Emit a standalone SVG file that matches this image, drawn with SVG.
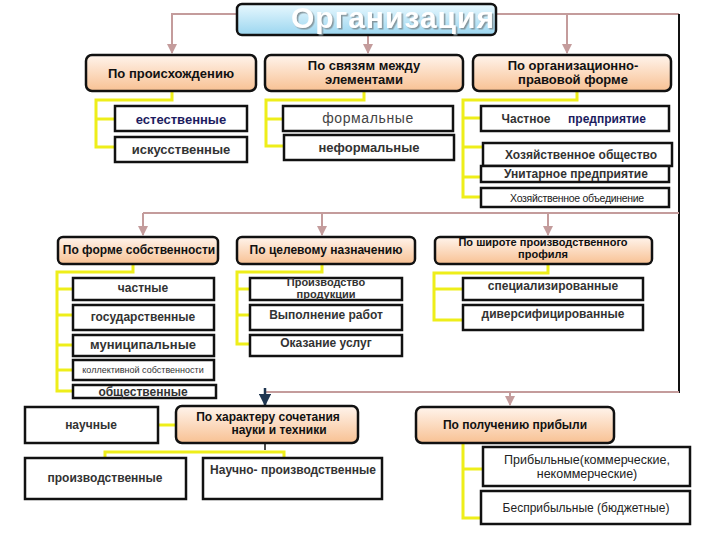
<svg xmlns="http://www.w3.org/2000/svg" width="720" height="540" viewBox="0 0 720 540">
<defs>
<linearGradient id="peach" x1="0" y1="0" x2="0" y2="1">
<stop offset="0" stop-color="#fff4ec"/>
<stop offset="1" stop-color="#f8c193"/>
</linearGradient>
<linearGradient id="sky" x1="0" y1="0" x2="0" y2="1">
<stop offset="0" stop-color="#e8f8fe"/>
<stop offset="1" stop-color="#9bd6f0"/>
</linearGradient>
<filter id="sh" x="-10%" y="-30%" width="120%" height="160%">
<feDropShadow dx="1.5" dy="1.5" stdDeviation="0.6" flood-color="#7f8f95" flood-opacity="0.9"/>
</filter>
<marker id="pa" viewBox="0 0 10 10" refX="9" refY="5" markerWidth="5" markerHeight="5" orient="auto">
<path d="M0,0 L10,5 L0,10 z" fill="#c49c9c"/>
</marker>
<marker id="ba" viewBox="0 0 10 10" refX="9" refY="5" markerWidth="5" markerHeight="5" orient="auto">
<path d="M0,0 L10,5 L0,10 z" fill="#1f3550"/>
</marker>
<style>
text{font-family:"Liberation Sans",Arial,sans-serif;fill:#222;text-anchor:middle}
.hdr{fill:url(#peach);stroke:#111;stroke-width:2.5}
.box{fill:#fff;stroke:#111;stroke-width:2.5}
.pk{stroke:#c49c9c;stroke-width:2;fill:none}
.yl{stroke:#eeee1a;stroke-width:3;fill:none}
.h{font-weight:bold;font-size:13px;fill:#111}
.h2{font-weight:bold;font-size:12px;fill:#111}
.t{font-size:12px;font-weight:bold;fill:#333}
.n{font-size:12px;fill:#222}
</style>
</defs>

<g id="connectors">
<polyline class="pk" points="237,14 172,14 172,53" marker-end="url(#pa)"/>
<line class="pk" x1="368" y1="35" x2="368" y2="53" marker-end="url(#pa)"/>
<line class="pk" x1="496" y1="14" x2="679" y2="14"/>
<line class="pk" x1="567" y1="14" x2="567" y2="53" marker-end="url(#pa)"/>
<line x1="679" y1="14" x2="679" y2="393" stroke="#111" stroke-width="2"/>
<line class="pk" x1="143" y1="213" x2="679" y2="213"/>
<line class="pk" x1="143" y1="213" x2="143" y2="235" marker-end="url(#pa)"/>
<line class="pk" x1="322" y1="213" x2="322" y2="235" marker-end="url(#pa)"/>
<line class="pk" x1="548" y1="213" x2="548" y2="235" marker-end="url(#pa)"/>
<line class="pk" x1="266" y1="392" x2="679" y2="392"/>
<line class="pk" x1="510" y1="392" x2="510" y2="405" marker-end="url(#pa)"/>
<line x1="265" y1="388" x2="265" y2="405" stroke="#1f3550" stroke-width="2.5" marker-end="url(#ba)"/>
<line x1="265" y1="443" x2="265" y2="450" stroke="#111" stroke-width="1.5"/>

<polyline class="yl" points="172,91 172,100 96,100 96,147 115,147"/>
<line class="yl" x1="96" y1="119" x2="115" y2="119"/>
<polyline class="yl" points="364,91 364,100 266,100 266,146 284,146"/>
<line class="yl" x1="266" y1="119" x2="284" y2="119"/>
<polyline class="yl" points="577,91 577,100 463,100 463,197 482,197"/>
<line class="yl" x1="463" y1="118" x2="482" y2="118"/>
<line class="yl" x1="463" y1="147" x2="484" y2="147"/>
<line class="yl" x1="463" y1="177" x2="482" y2="177"/>

<polyline class="yl" points="133,264 133,272 57,272 57,391 73,391"/>
<line class="yl" x1="57" y1="289" x2="73" y2="289"/>
<line class="yl" x1="57" y1="315" x2="73" y2="315"/>
<line class="yl" x1="57" y1="345" x2="73" y2="345"/>
<line class="yl" x1="57" y1="370" x2="73" y2="370"/>
<polyline class="yl" points="322,264 322,272 237,272 237,344 250,344"/>
<line class="yl" x1="237" y1="289" x2="250" y2="289"/>
<line class="yl" x1="237" y1="315" x2="250" y2="315"/>
<polyline class="yl" points="548,264 548,273 434,273 434,320 463,320"/>
<line class="yl" x1="434" y1="289" x2="463" y2="289"/>

<line class="yl" x1="156" y1="425" x2="176" y2="425"/>
<polyline class="yl" points="105,458 105,452 284,452 284,459"/>
<polyline class="yl" points="463,443 463,518 481,518"/>
<line class="yl" x1="463" y1="469" x2="483" y2="469"/>
</g>

<g id="title">
<rect x="237" y="4" width="259" height="31" rx="5" fill="url(#sky)" stroke="#111" stroke-width="2.5"/>
<text x="393" y="28" filter="url(#sh)" style="font-size:30px;font-weight:bold;fill:#fff;letter-spacing:1px">Организация</text>
</g>

<g id="h-origin"><rect class="hdr" x="86" y="55" width="170" height="36" rx="6"/><text class="h" x="171" y="78">По происхождению</text></g>
<g id="h-links"><rect class="hdr" x="265" y="55" width="198" height="36" rx="6"/><text class="h" x="364" y="70">По связям между</text><text class="h" x="364" y="84">элементами</text></g>
<g id="h-legal"><rect class="hdr" x="473" y="55" width="198" height="36" rx="6"/><text class="h" x="573" y="70">По  организационно-</text><text class="h" x="573" y="84">правовой  форме</text></g>

<g id="c-nat"><rect class="box" x="115" y="106" width="132" height="25"/><text x="181" y="124" style="font-size:13px;font-weight:bold;fill:#1c1c60">естественные</text></g>
<g id="c-art"><rect class="box" x="115" y="137" width="132" height="25"/><text class="t" x="181" y="154" style="font-size:13px">искусственные</text></g>
<g id="c-form"><rect class="box" x="283" y="106" width="170" height="25"/><text x="368" y="123" style="font-size:14px;fill:#444;letter-spacing:0.6px">формальные</text></g>
<g id="c-inform"><rect class="box" x="284" y="135" width="170" height="25"/><text class="t" x="369" y="152" style="font-size:13px">неформальные</text></g>
<g id="c-priv"><rect class="box" x="481" y="106" width="188" height="25"/><text class="t" x="526" y="123">Частное</text><text x="607" y="123" style="font-size:12px;font-weight:bold;fill:#1c1c60">предприятие</text></g>
<g id="c-econ"><rect class="box" x="483" y="143" width="189" height="23"/><text class="n" x="581" y="159" style="font-weight:bold;fill:#333">Хозяйственное общество</text></g>
<g id="c-unit"><rect class="box" x="481" y="166" width="188" height="16"/><text class="t" x="576" y="178">Унитарное предприятие</text></g>
<g id="c-union"><rect class="box" x="481" y="188" width="188" height="19"/><text x="577" y="202" style="font-size:10.5px;fill:#222;letter-spacing:-0.3px">Хозяйственное объединение</text></g>

<g id="h-own"><rect class="hdr" x="58" y="237" width="160" height="27" rx="5"/><text class="h2" x="139" y="254">По форме собственности</text></g>
<g id="h-purpose"><rect class="hdr" x="237" y="237" width="178" height="27" rx="5"/><text class="h2" x="326" y="254">По целевому назначению</text></g>
<g id="h-width"><rect class="hdr" x="435" y="237" width="217" height="27" rx="5"/><text class="h2" x="543" y="246" style="font-size:11px">По широте производственного</text><text class="h2" x="543" y="258" style="font-size:11px">профиля</text></g>

<g id="c-private"><rect class="box" x="73" y="278" width="141" height="22"/><text class="t" x="143" y="292">частные</text></g>
<g id="c-state"><rect class="box" x="73" y="305" width="141" height="25"/><text class="t" x="143" y="321">государственные</text></g>
<g id="c-muni"><rect class="box" x="73" y="335" width="141" height="21"/><text class="t" x="143" y="349" style="font-size:13px">муниципальные</text></g>
<g id="c-coll"><rect class="box" x="73" y="360" width="141" height="20"/><text x="143" y="373" style="font-size:9px;fill:#333">коллективной собственности</text></g>
<g id="c-public"><rect class="box" x="73" y="385" width="143" height="13"/><text class="t" x="143" y="396">общественные</text></g>

<g id="c-prod"><rect class="box" x="250" y="278" width="152" height="22"/><text class="t" x="326" y="286" style="font-size:11px">Производство</text><text class="t" x="326" y="298" style="font-size:11px">продукции</text></g>
<g id="c-work"><rect class="box" x="250" y="305" width="152" height="25"/><text class="t" x="326" y="319">Выполнение работ</text></g>
<g id="c-serv"><rect class="box" x="250" y="335" width="152" height="21"/><text class="t" x="326" y="347">Оказание услуг</text></g>

<g id="c-spec"><rect class="box" x="463" y="278" width="180" height="22"/><text class="t" x="553" y="290">специализированные</text></g>
<g id="c-div"><rect class="box" x="463" y="305" width="180" height="25"/><text class="t" x="553" y="318">диверсифицированные</text></g>

<g id="c-sci"><rect class="box" x="25" y="407" width="133" height="36"/><text class="t" x="91" y="429">научные</text></g>
<g id="h-science"><rect class="hdr" x="176" y="406" width="182" height="37" rx="6"/><text class="h2" x="268" y="421">По характеру сочетания</text><text class="h2" x="279" y="434">науки и техники</text></g>
<g id="c-industr"><rect class="box" x="25" y="458" width="161" height="41"/><text class="t" x="105" y="482">производственные</text></g>
<g id="c-scind"><rect class="box" x="203" y="458" width="179" height="41"/><text class="t" x="293" y="474">Научно- производственные</text></g>

<g id="h-profit"><rect class="hdr" x="416" y="407" width="198" height="36" rx="6"/><text class="h2" x="515" y="429">По получению прибыли</text></g>
<g id="c-profit"><rect class="box" x="483" y="447" width="207" height="39"/><text class="n" x="587" y="464" style="font-size:12.5px">Прибыльные(коммерческие,</text><text class="n" x="587" y="478" style="font-size:12.5px">некоммерческие)</text></g>
<g id="c-nonprofit"><rect class="box" x="481" y="491" width="209" height="33"/><text class="n" x="586" y="512">Бесприбыльные (бюджетные)</text></g>
</svg>
